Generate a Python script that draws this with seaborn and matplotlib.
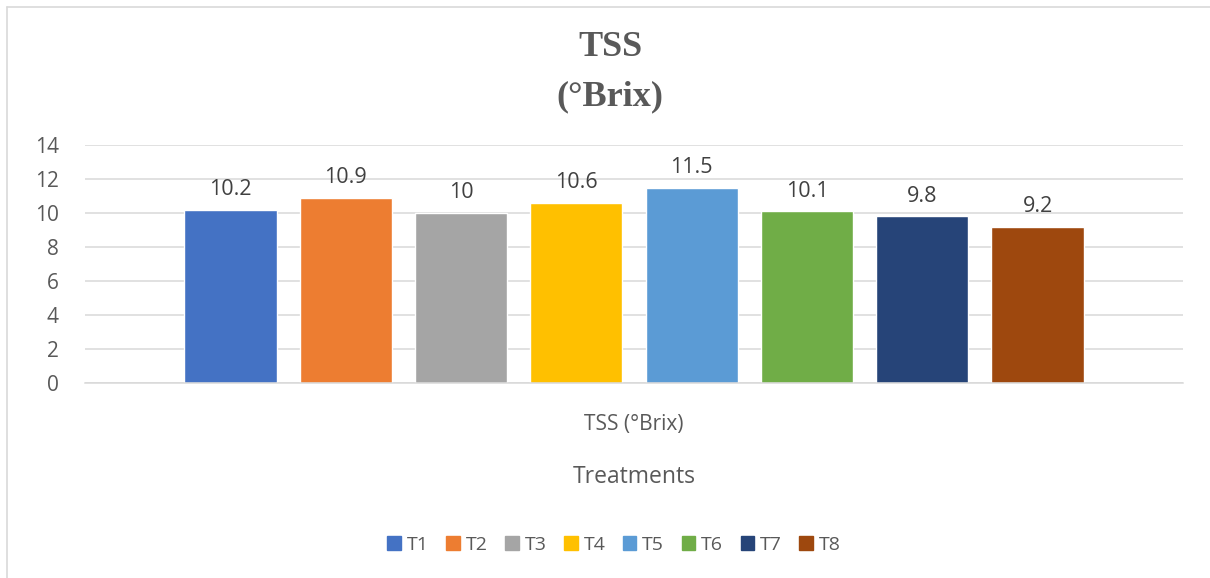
import pandas as pd
import matplotlib.pyplot as plt
import seaborn as sns
from matplotlib.lines import Line2D

# données
treatments = ["T1", "T2", "T3", "T4", "T5", "T6", "T7", "T8"]
tss_values = [10.2, 10.9, 10.0, 10.6, 11.5, 10.1, 9.8, 9.2]
value_labels = ["10.2", "10.9", "10", "10.6", "11.5", "10.1", "9.8", "9.2"]
category = "TSS (°Brix)"
y_ticks = [0, 2, 4, 6, 8, 10, 12, 14]
colors = ["#4472C4", "#ED7D31", "#A5A5A5", "#FFC000",
          "#5B9BD5", "#70AD47", "#264478", "#9E480E"]

df = pd.DataFrame({"parametre": category, "traitement": treatments, "tss": tss_values})

sns.set_style("white")
plt.rcParams["font.family"] = ["Open Sans", "DejaVu Sans"]

fig = plt.figure(figsize=(12.1, 5.78), dpi=100)
ax = fig.add_axes([85 / 1210, 1 - 383 / 578, (1183 - 85) / 1210, (383 - 145) / 578])

sns.barplot(data=df, x="parametre", y="tss", hue="traitement", palette=colors,
            width=0.84, gap=0.2, saturation=1, errorbar=None, ax=ax, legend=False)

for cont, lab in zip(ax.containers, value_labels):
    ax.bar_label(cont, labels=[lab], padding=7, fontsize=15.5, color="#404040")

ax.set_xlim(-0.5, 0.5)
ax.set_ylim(0, 14)
ax.set_yticks(y_ticks)
ax.yaxis.grid(True, color="#D9D9D9", linewidth=1.1)
ax.set_axisbelow(True)
for s in ["top", "right", "left"]:
    ax.spines[s].set_visible(False)
ax.spines["bottom"].set_color("#D9D9D9")
ax.spines["bottom"].set_linewidth(1.1)
ax.tick_params(axis="both", length=0, labelsize=15, labelcolor="#595959")
ax.tick_params(axis="x", pad=22)
ax.tick_params(axis="y", pad=19)
ax.set_ylabel("")
ax.set_xlabel("Treatments", fontsize=16.5, color="#595959", labelpad=22)

# titre
fig.text(610 / 1210, 1 - 48 / 578, "TSS", ha="center", va="center", fontsize=26,
         fontweight="bold", family="Liberation Serif", color="#595959")
fig.text(610 / 1210, 1 - 97 / 578, "(°Brix)", ha="center", va="center", fontsize=26,
         fontweight="bold", family="Liberation Serif", color="#595959")

# légende en bas
handles = [plt.Rectangle((0, 0), 1, 1, color=c) for c in colors]
fig.legend(handles, treatments, loc="center", bbox_to_anchor=(614 / 1210, 1 - 545 / 578),
           ncol=8, frameon=False, fontsize=14, labelcolor="#595959",
           handlelength=0.7, handleheight=0.7, handletextpad=0.3, columnspacing=0.9)

# cadre du graphique
fig.add_artist(Line2D([7 / 1210, 1], [1 - 7 / 578, 1 - 7 / 578], color="#D9D9D9", lw=1.2))
fig.add_artist(Line2D([7 / 1210, 7 / 1210], [0, 1 - 7 / 578], color="#D9D9D9", lw=1.2))

fig.savefig("out.png", dpi=100)
